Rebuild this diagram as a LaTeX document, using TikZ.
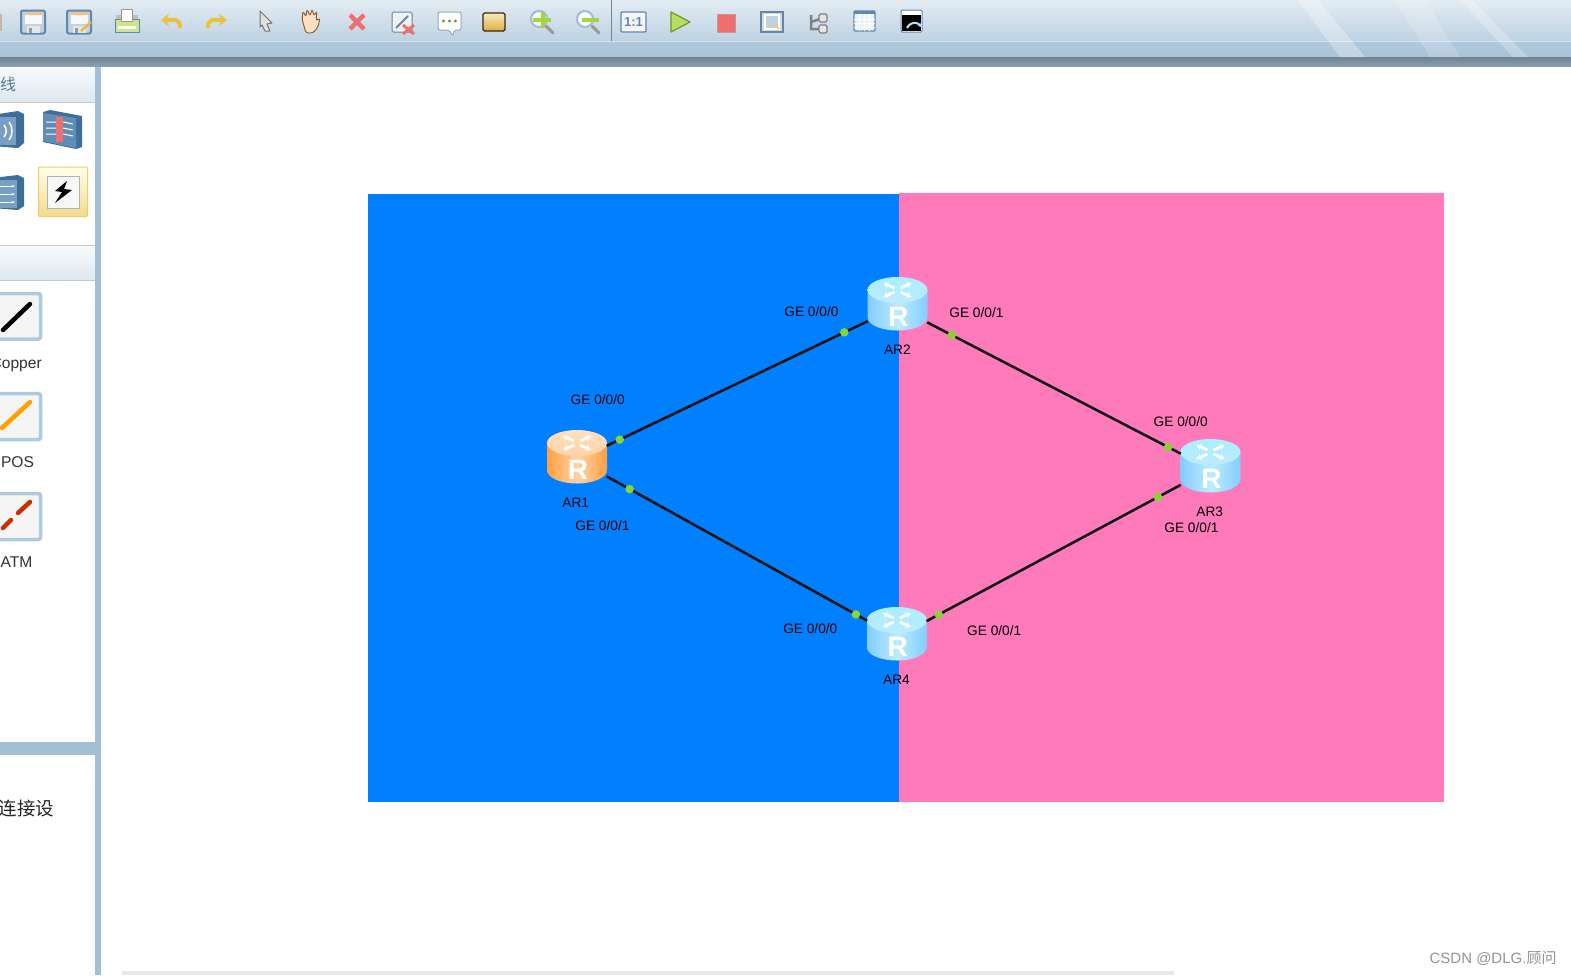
\documentclass[tikz,border=0pt]{standalone}
\usepackage{fontspec}
\setmainfont{Liberation Sans}
\newfontfamily\cjk{Noto Sans CJK SC}
\usetikzlibrary{arrows.meta,calc}
\definecolor{barblue}{HTML}{A2BFD6}
\definecolor{areablue}{HTML}{007FFF}
\definecolor{areapink}{HTML}{FF7ABB}
\definecolor{icondark}{HTML}{5F87B0}
\definecolor{devicedark}{HTML}{3F6E9A}
\definecolor{devicefront}{HTML}{5F8DB8}
\definecolor{portgreen}{HTML}{85D62E}
\definecolor{softyellow}{HTML}{EBC23F}
\definecolor{softred}{HTML}{EE6F6F}
\definecolor{softgreen}{HTML}{A5D63A}
\definecolor{routerside}{HTML}{82CDFF}
\definecolor{routermid}{HTML}{BDEBFF}
\definecolor{routertop}{HTML}{A9EEFF}
\tikzset{
  router/.style={rectangle,minimum width=59pt,minimum height=46pt,inner sep=0pt},
  portlabel/.style={font=\fontsize{13.7}{16}\selectfont,text=black,inner sep=0pt,xshift=.7pt,yshift=-.7pt},
  portdot/.style={circle,fill=portgreen,minimum size=8.5pt,inner sep=0pt},
  link/.style={draw=black!92,line width=2.6pt},
  paneltext/.style={font=\fontsize{15.6}{18}\selectfont,text=black!80,inner sep=0pt},
  panelhead/.style={top color=#1,bottom color=#1!70!barblue},
  panelhead/.default={white!92!barblue},
  cablebtn/.style={draw=barblue!85,line width=3.5pt,fill=black!4,rounded corners=2pt},
  cable/.style={line width=4.5pt,line cap=round},
  floppy/.pic={
    \draw[line width=2pt,draw=icondark,fill=barblue!70,rounded corners=2pt] (-12,-11.5) rectangle (12,11.5);
    \fill[orange!50] (-8.5,-10.5) rectangle (8.5,-7);
    \fill[white!90!barblue] (-8.5,-7) rectangle (8.5,2);
    \fill[black!10] (-6.5,4) rectangle (6.5,10.5);
    \fill[black!40] (-4.5,6) rectangle (-1,10.5);
  },
  magnifier/.pic={
    \draw[black!40,line width=3pt,line cap=round] (4,4) -- (11,11);
    \draw[icondark!55,line width=2.2pt,fill=white] (-3,-3) circle (8pt);
  },
}
% router drawn around its node: name, side colour, middle colour, top colour
\newcommand{\routericon}[4]{
  \begin{scope}[shift={(#1.center)}]
    \shade[left color=#2,right color=#2,middle color=#3] (-30,-17) -- (-30,10)
      .. controls (-30,18) and (-16,23.5) .. (0,23.5)
      .. controls (16,23.5) and (30,18) .. (30,10) -- (30,-17) -- cycle;
    \shade[top color=#4,bottom color=#3] (0,-17) ellipse [x radius=30pt,y radius=13pt];
    \foreach \dx/\dy in {1/1,1/-1,-1/1,-1/-1}
      \draw[white,line width=2.6pt,-{Stealth[length=5pt,width=6pt]}] (\dx*3,-17+\dy*2) -- (\dx*14,-17+\dy*7);
    \node[text=white,inner sep=0pt,font=\fontsize{28}{29}\selectfont\bfseries] at (1,9.5) {R};
  \end{scope}
}

\begin{document}
\begin{tikzpicture}[x=1pt,y=-1pt]
\useasboundingbox (0,0) rectangle (1571,975);
\clip (0,0) rectangle (1571,975);
\fill[white] (0,0) rectangle (1571,975);

% toolbar bands
\shade[top color=white!70!barblue,bottom color=barblue!70] (0,0) rectangle (1571,41);
\fill[white!55!barblue] (0,41) rectangle (1571,42.5);
\shade[top color=barblue!85,bottom color=barblue!95] (0,42.5) rectangle (1571,57);
\shade[top color=barblue!60!black!90,bottom color=barblue!85!black] (0,57) rectangle (1571,66.5);
\fill[white,opacity=.3] (1298,0) -- (1318,0) -- (1365,57) -- (1340,57) -- cycle;
\fill[white,opacity=.18] (1395,0) -- (1425,0) -- (1460,57) -- (1430,57) -- cycle;
\fill[white,opacity=.25] (1460,0) -- (1472,0) -- (1528,57) -- (1513,57) -- cycle;
\draw[barblue!70!black,line width=.8pt] (611.5,0) -- (611.5,41);

% toolbar icons
\fill[orange!35!black!35] (0,14) rectangle (2,31);
\pic at (33,22) {floppy};
\pic at (79,22) {floppy};
\draw[softyellow!90!orange,line width=2.5pt] (81,31) -- (91,22);
\fill[black!25] (116,15) rectangle (138,32);
\draw[icondark,line width=1pt,fill=softgreen!60] (115,19) rectangle (139,32);
\draw[black!40,fill=white] (121,9) rectangle (132,21);
\fill[white] (118,26) rectangle (136,29);
\draw[softyellow,line width=4pt,-{Stealth[length=8pt,width=13pt]}] (180,28) .. controls (180,18) and (175,20) .. (161,20);
\draw[softyellow,line width=4pt,-{Stealth[length=8pt,width=13pt]}] (208,28) .. controls (208,18) and (213,20) .. (227,20);
\draw[black!55,fill=black!12,line width=1pt,line join=round] (260,11) -- (272,23) -- (267,24) -- (270,31) -- (265,31) -- (262,25) -- (260,27) -- cycle;
\draw[brown!70!black,fill=orange!25!white,line width=.9pt,rounded corners=2.5pt] (302,19) -- (303,11) -- (306,17) -- (307,9) -- (310,16) -- (312,9) -- (314,16) -- (317,11) -- (316,21) -- (320,18) -- (318,27) -- (313,33) -- (306,33) -- cycle;
\draw[softred,line width=4.5pt] (350,15) -- (364,29) (364,15) -- (350,29);
\draw[icondark,fill=black!5,line width=1pt,rounded corners=1.5pt] (392,12) rectangle (412,32);
\draw[icondark,line width=2pt] (396,28) -- (408,16);
\draw[softred,line width=3pt] (403,25) -- (414,34) (414,25) -- (403,34);
\draw[icondark!70,fill=white,line width=1pt,rounded corners=2pt] (438,12) -- (461,12) -- (461,30) -- (454,30) -- (453,36) -- (449,30) -- (438,30) -- cycle;
\foreach \dotx in {443.5,449.5,455.5} \fill[softgreen!70!black] (\dotx,21) circle (1.7pt);
\draw[black!70!brown,top color=softyellow!35,bottom color=softyellow!70!brown,line width=1.1pt,rounded corners=1.5pt] (483,13) rectangle (505,31);
\pic at (542,22) {magnifier};
\draw[softgreen,line width=3.5pt] (533,20) -- (551,20) (543,12) -- (543,28);
\pic at (588,22) {magnifier};
\draw[softgreen,line width=3.5pt] (582,20) -- (599,20);
\draw[icondark,fill=black!4,line width=1.2pt,rounded corners=1pt] (621,12) rectangle (646,32);
\node[text=icondark,inner sep=0pt,font=\fontsize{13}{14}\selectfont\bfseries] (ratio) at (633.5,22) {1:1};
\draw[softgreen!70!black,fill=softgreen!80,line width=1.2pt,line join=round] (671,12) -- (690,22) -- (671,32) -- cycle;
\draw[softred!70!black!60,fill=softred,line width=1pt] (717,14) rectangle (735,32);
\draw[icondark,line width=1.3pt,fill=black!15] (761,12) rectangle (783,32);
\draw[white,line width=1.2pt,fill=barblue!70] (765,15) rectangle (779,29);
\draw[orange!50,line width=1.5pt] (773,23) -- (779,29);
\draw[black!50,line width=2.5pt] (811,15) -- (811,29) -- (820,29) (811,22) -- (820,19);
\draw[black!50,fill=black!10,line width=1.2pt,rounded corners=1.5pt] (819,14) rectangle (827,22) (819,25) rectangle (827,33);
\draw[icondark,fill=white!80!barblue,line width=1.2pt,rounded corners=1pt] (854,11) rectangle (875,31);
\fill[icondark] (854,11) rectangle (875,14);
\foreach \gridx in {859,864,869} \draw[white] (\gridx,14) -- (\gridx,31);
\foreach \gridy in {19,23,27} \draw[white] (854,\gridy) -- (875,\gridy);
\draw[icondark,line width=1pt,fill=white,rounded corners=1pt] (901,10) rectangle (922,32);
\fill[black] (902,15) rectangle (921,31);
\draw[white!70!cyan,line width=2pt,-{Stealth[length=4pt,width=5pt]}] (907,28) .. controls (911,21) and (917,22) .. (922,27);

% left panel
\shade[panelhead] (0,67) rectangle (94.5,101.5);
\draw[black!22] (0,102) -- (94.5,102);
\shade[panelhead] (0,245.5) rectangle (94.5,280);
\draw[black!22] (0,245.5) -- (94.5,245.5) (0,280) -- (94.5,280);
\fill[barblue] (94.5,67) rectangle (101,975);
\fill[barblue] (0,741.5) rectangle (94.5,755);
\node[text=icondark!90!black,inner sep=0pt,font=\cjk\fontsize{16}{18}\selectfont] (headlabel) at (8,84) {线};

% device buttons
\fill[devicedark] (-8,115) -- (18,111) -- (24,114) -- (24,143) -- (18,148) -- (-8,146) -- cycle;
\fill[devicefront!85!white] (-8,117) rectangle (16,145);
\draw[white,line width=1.5pt] (9,122) .. controls (13,127) and (13,135) .. (9,140) (4,125) .. controls (7,129) and (7,133) .. (4,137);
\fill[devicedark] (43,112) -- (50,110) -- (82,116) -- (82,147) -- (76,149) -- (43,142) -- cycle;
\fill[devicefront] (43,113) -- (76,118) -- (76,148) -- (43,141) -- cycle;
\fill[softred] (56,117) rectangle (63,142);
\foreach \gapy in {122,128,134} \draw[white,line width=1pt] (46,\gapy) -- (56,\gapy) (63,\gapy) -- (73,\gapy+2);
\fill[devicedark] (-8,178) -- (18,175) -- (24,178) -- (24,206) -- (18,210) -- (-8,208) -- cycle;
\fill[devicefront!85!white] (-8,180) rectangle (17,208);
\foreach \gapy in {186,194,202} \draw[white,line width=1pt,-{Stealth[length=3pt]}] (0,\gapy) -- (15,\gapy);
\draw[softyellow!80,line width=1pt,top color=yellow!8,bottom color=softyellow!60,rounded corners=1pt] (38.5,167) rectangle (87.5,216.5);
\draw[black!30,fill=black!3] (47,176) rectangle (79,208);
\fill[black] (67,181) -- (55,191) -- (62,192) -- (55,203) -- (72,190) -- (64,189) -- cycle;

% cable buttons
\draw[cablebtn] (-8,293.5) rectangle (40.5,339);
\draw[cable,black] (3,330) -- (30,304);
\node[paneltext,anchor=east] (copper) at (42,365) {Copper};
\draw[cablebtn] (-8,393.5) rectangle (40.5,439.5);
\draw[cable,orange!75!yellow] (2,428) -- (30,402);
\node[paneltext] (pos) at (17.5,462) {POS};
\draw[cablebtn] (-8,493.5) rectangle (40.5,539.5);
\draw[cable,red!55!orange!80!black] (3,528) -- (11,520) (18,513) -- (30,502);
\node[paneltext] (atm) at (16.5,562) {ATM};
\node[anchor=east,text=black!85,inner sep=0pt,font=\cjk\fontsize{18.5}{20}\selectfont] (hint) at (54.5,808) {连接设};

% coloured areas
\fill[areablue] (367.5,194) rectangle (898.5,801.5);
\fill[areapink] (898.5,193) rectangle (1443.5,801.5);

% routers
\node[router] (ar1) at (577,460) {};
\node[router] (ar2) at (897.5,307) {};
\node[router] (ar3) at (1210.5,469) {};
\node[router] (ar4) at (896.8,637) {};
\routericon{ar1}{orange!75!white}{orange!35!white}{orange!25!white}
\routericon{ar2}{routerside}{routermid}{routertop}
\routericon{ar3}{routerside}{routermid}{routertop}
\routericon{ar4}{routerside}{routermid}{routertop}

% links with their ports
\draw[link] (ar1) -- node[portdot,pos=.05] {} node[portdot,pos=.91] {} (ar2);
\draw[link] (ar1) -- node[portdot,pos=.088] {} node[portdot,pos=.957] {} (ar4);
\draw[link] (ar2) -- node[portdot,pos=.097] {} node[portdot,pos=.95] {} (ar3);
\draw[link] (ar4) -- node[portdot,pos=.048] {} node[portdot,pos=.91] {} (ar3);

% labels
\node[portlabel] (ar1name) at (575,501.7) {AR1};
\node[portlabel] (ar2name) at (896.7,349) {AR2};
\node[portlabel] (ar3name) at (1209,510.7) {AR3};
\node[portlabel] (ar4name) at (895.8,679.4) {AR4};
\node[portlabel] (ar1ge0) at (597,399) {GE 0/0/0};
\node[portlabel] (ar1ge1) at (601.7,525) {GE 0/0/1};
\node[portlabel] (ar2ge0) at (810.7,311) {GE 0/0/0};
\node[portlabel] (ar2ge1) at (975.7,312.3) {GE 0/0/1};
\node[portlabel] (ar3ge0) at (1180,420.7) {GE 0/0/0};
\node[portlabel] (ar3ge1) at (1190.7,527) {GE 0/0/1};
\node[portlabel] (ar4ge0) at (809.6,628.3) {GE 0/0/0};
\node[portlabel] (ar4ge1) at (993.5,629.5) {GE 0/0/1};

% bottom edge and watermark
\fill[black!9] (122,971) rectangle (1174,975);
\node[anchor=east,text=black!42,inner sep=0pt,font=\fontsize{15}{17}\selectfont] (mark) at (1556.7,958) {CSDN @DLG.{\cjk 顾问}};
\end{tikzpicture}
\end{document}
